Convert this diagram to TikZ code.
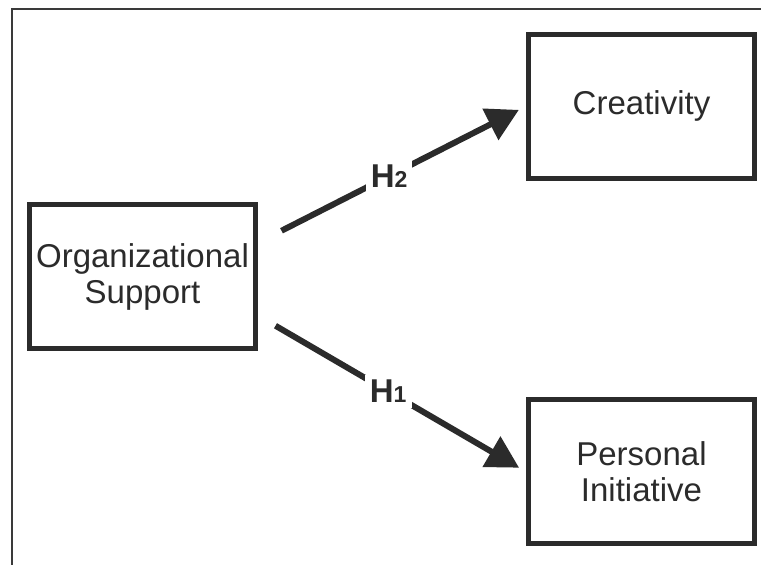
\documentclass[tikz,border=0pt]{standalone}
\usepackage{fontspec}
\setmainfont{Liberation Sans}
\usetikzlibrary{arrows.meta}

\definecolor{ink}{HTML}{2B2B2B}
\definecolor{frameink}{HTML}{3A3A3A}

\newcommand{\hsub}[1]{H{\fontsize{23}{24}\selectfont #1}}

\begin{document}
\begin{tikzpicture}[x=1pt,y=-1pt,
    construct/.style={draw=ink,line width=5pt,minimum width=226pt,minimum height=144pt,
        align=center,text=ink,font=\fontsize{33}{36}\selectfont},
    hyp/.style={draw=ink,line width=6pt,-{Triangle[length=32pt,width=34pt]},shorten >=8pt},
    hyplabel/.style={fill=white,inner sep=5pt,text=ink,font=\fontsize{33}{36}\selectfont\bfseries}]
    \useasboundingbox (0,0) rectangle (761,565);
    % outer frame (only top and left edges show)
    \draw[frameink,line width=2pt] (12,565) -- (12,9.3) -- (761,9.3);

    \node [construct] (org) at (142.5,276.75) {Organizational\\Support};
    \node [construct] (crea) at (641.5,106.25) {Creativity};
    \node [construct] (pers) at (641.5,471.75) {Personal\\Initiative};

    \draw [hyp] ([xshift=23.5pt,yshift=46pt]org.east) -- (crea.west)
        node [hyplabel,pos=0.44] (h2) {\hsub{2}};
    \draw [hyp] ([xshift=17.5pt,yshift=-49pt]org.east) -- (pers.west)
        node [hyplabel,pos=0.45] (h1) {\hsub{1}};
\end{tikzpicture}
\end{document}
